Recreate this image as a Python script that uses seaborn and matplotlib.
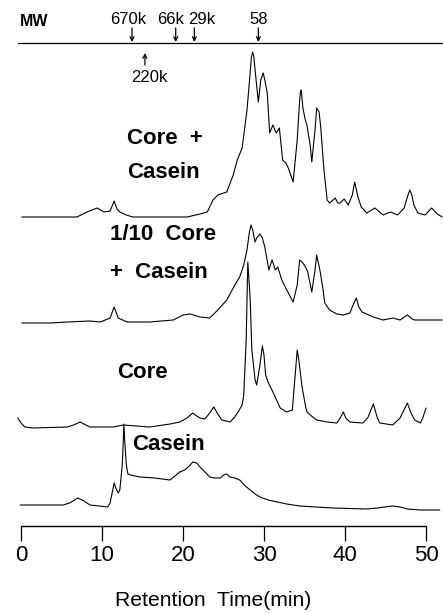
import numpy as np
import pandas as pd
import matplotlib
matplotlib.use("Agg")
import matplotlib.pyplot as plt
import seaborn as sns

# ---------------- data (retention time in min, detector signal in arbitrary units) -------------
core_casein_t = [0.1, 6.9, 8.15, 9.4, 10.25, 11.0, 11.5, 11.85, 12.2, 13.0, 13.8, 20.5, 22.1, 23.0,
                 23.7, 24.3, 25.4, 26.2, 26.7, 27.3, 27.9, 28.3, 28.45, 28.6, 28.75, 28.9, 29.3, 29.6,
                 29.9, 30.1, 30.4, 30.7, 31.1, 31.5, 31.9, 32.3, 32.7, 33.0, 33.6, 34.1, 34.4, 34.5,
                 34.6, 34.8, 35.1, 35.3, 35.7, 35.9, 36.3, 36.5, 36.8, 37.0, 37.4, 37.8, 38.1, 38.8,
                 39.1, 39.4, 39.9, 40.4, 40.9, 41.2, 41.6, 42.0, 42.7, 43.7, 44.7, 45.6, 46.5, 47.3,
                 47.7, 48.0, 48.25, 48.5, 49.0, 49.9, 50.7, 51.4, 52.0]
core_casein_y = [0, 0, 5, 9, 5, 6, 16, 8, 5, 2, 0, 0, 3, 5,
                 17, 22, 25, 42, 57, 69, 107, 145, 160, 165, 160, 147, 115, 137,
                 144, 137, 124, 84, 92, 84, 89, 57, 54, 49, 35, 77, 117, 125,
                 127, 109, 97, 92, 72, 55, 87, 109, 105, 90, 47, 17, 14, 19,
                 14, 14, 18, 12, 22, 35, 20, 10, 4, 9, 2, 5, 2, 9,
                 20, 27, 22, 12, 4, 2, 9, 3, 0]

tenth_core_casein_t = [0.1, 3.6, 5.7, 8.5, 9.8, 11.0, 11.5, 12.0, 13.1, 15.9, 18.8, 20.0, 20.9, 22.1,
                       23.3, 24.3, 25.4, 26.4, 27.0, 27.5, 27.9, 28.2, 28.4, 28.6, 28.9, 29.1, 29.5,
                       29.8, 30.1, 30.6, 31.0, 31.4, 31.7, 32.2, 32.8, 33.6, 34.1, 34.4, 34.8, 35.2,
                       35.4, 35.9, 36.3, 36.5, 36.9, 37.3, 37.5, 38.1, 39.0, 39.8, 40.6, 41.0, 41.4,
                       41.7, 42.1, 43.5, 44.7, 45.9, 46.8, 47.7, 48.3, 48.6, 50.5, 52.0]
tenth_core_casein_y = [-1, -1, 0, 1, 0, 4, 15, 4, 0, 0, 2, 7, 8, 5,
                       4, 12, 22, 37, 45, 57, 72, 90, 97, 92, 80, 84, 88,
                       84, 75, 52, 62, 52, 55, 42, 32, 20, 37, 62, 59, 54,
                       50, 30, 52, 67, 52, 32, 19, 12, 8, 7, 9, 17, 24,
                       15, 10, 5, 2, 4, 2, 7, 3, 2, 2, 2]

core_t = [-0.4, 0.1, 0.5, 1.5, 5.7, 6.5, 7.3, 8.0, 8.5, 11.4, 12.6, 15.9, 18.4, 19.6, 20.5, 21.2,
          21.7, 22.1, 22.7, 23.3, 23.8, 24.3, 24.8, 25.8, 26.3, 26.8, 27.3, 27.5, 27.8, 28.0, 28.3,
          28.5, 28.9, 29.1, 29.5, 29.8, 30.0, 30.2, 30.5, 31.1, 32.0, 32.8, 33.5, 33.8, 34.1, 34.3,
          34.7, 35.1, 35.3, 36.0, 36.5, 37.8, 39.0, 39.4, 39.8, 40.1, 40.6, 42.2, 42.8, 43.5, 44.0,
          44.3, 45.9, 46.8, 47.7, 48.1, 48.6, 49.3, 49.6, 50.0]
core_y = [10, 4, 1, 0, 1, 3, 6, 3, 1, 1, 3, 1, 4, 6, 10, 15,
          12, 10, 9, 15, 21, 14, 8, 6, 10, 16, 23, 33, 88, 166, 128,
          78, 48, 43, 63, 82, 73, 53, 46, 36, 20, 16, 18, 48, 78, 68,
          41, 23, 16, 11, 8, 6, 5, 10, 16, 10, 6, 5, 10, 24, 10,
          5, 3, 10, 25, 16, 8, 5, 10, 20]

casein_t = [-0.1, 5.2, 6.0, 7.0, 7.8, 8.5, 10.7, 11.0, 11.2, 11.5, 11.7, 12.0, 12.2, 12.5, 12.6,
            12.7, 12.8, 13.0, 13.2, 13.5, 14.7, 16.5, 18.4, 19.0, 19.6, 20.2, 20.9, 21.2, 21.7,
            22.1, 22.7, 23.3, 23.9, 24.6, 25.0, 25.4, 25.8, 26.4, 27.0, 27.7, 28.3, 28.9, 29.5,
            30.5, 31.1, 32.8, 34.4, 38.5, 42.7, 44.0, 44.9, 45.9, 46.8, 47.7, 49.3, 51.7]
casein_y = [0, 0, 2, 7, 4, 0, -2, 2, 10, 22, 17, 12, 15, 40, 58,
            81, 65, 40, 31, 30, 28, 27, 25, 29, 33, 35, 40, 43, 42,
            38, 33, 28, 27, 27, 30, 31, 28, 27, 25, 19, 15, 11, 8,
            5, 4, 1, -1, -3, -4, -3, -2, -1, -2, -4, -5, -5]

trace_names = ["Core + Casein", "1/10 Core + Casein", "Core", "Casein"]
trace_times = [core_casein_t, tenth_core_casein_t, core_t, casein_t]
trace_values = [core_casein_y, tenth_core_casein_y, core_y, casein_y]

mw_labels = ["670k", "66k", "29k", "58"]
mw_times = [13.7, 19.1, 21.4, 29.3]
mw_up_label = "220k"
mw_up_time = 15.3

x_ticks = [0, 10, 20, 30, 40, 50]

# ---------------- layout / styling (not data) ----------------
trace_offsets = [309, 204, 98, 21]
label_specs = [  # (text, x in min, y)
    ("Core  +", 13.1, 388), ("Casein", 13.1, 353),
    ("1/10  Core", 11.0, 291), ("+  Casein", 11.0, 253),
    ("Core", 11.85, 153),
    ("Casein", 13.7, 81),
]

sns.set_theme(style="white")
plt.rcParams["font.family"] = ["Liberation Sans", "DejaVu Sans"]
plt.rcParams["text.color"] = "black"
plt.rcParams["axes.labelcolor"] = "black"
plt.rcParams["xtick.color"] = "black"

W, H = 443, 613
fig = plt.figure(figsize=(W / 100, H / 100), dpi=100)
spine_py = 526
ax = fig.add_axes([0, (H - spine_py) / H, 1, spine_py / H])
px_per_min = 8.1
x0_px = 21
ax.set_xlim(-x0_px / px_per_min, (W - x0_px) / px_per_min)
ax.set_ylim(0, spine_py)

frames = []
for name, t, v, off in zip(trace_names, trace_times, trace_values, trace_offsets):
    df = pd.DataFrame({"time": t, "signal": np.asarray(v, dtype=float) + off, "trace": name})
    frames.append(df)
data = pd.concat(frames, ignore_index=True)

for name in trace_names:
    sub = data[data["trace"] == name]
    sns.lineplot(data=sub, x="time", y="signal", ax=ax, color="black", lw=0.8,
                 sort=False, estimator=None, legend=False)

# MW scale line at top
mw_y = 526 - 43
ax.plot([-0.4, 52.2], [mw_y, mw_y], color="black", lw=0.9, clip_on=False)
ax.text(-0.2, 526 - 21, "MW", fontsize=11.5, fontweight="bold", ha="left", va="center")
label_offsets = {"670k": -0.5, "66k": -0.6, "29k": 0.85, "58": 0.0}
for lab, t in zip(mw_labels, mw_times):
    ax.annotate("", xy=(t, mw_y + 1), xytext=(t, mw_y + 15),
                arrowprops=dict(arrowstyle="->", lw=0.9, color="black",
                                shrinkA=0, shrinkB=0, mutation_scale=7))
    ax.text(t + label_offsets[lab], 526 - 20, lab, fontsize=12, ha="center", va="center")
ax.annotate("", xy=(mw_up_time, 526 - 53), xytext=(mw_up_time, 526 - 65),
            arrowprops=dict(arrowstyle="->", lw=0.9, color="black",
                            shrinkA=0, shrinkB=0, mutation_scale=7))
ax.text(mw_up_time + 0.6, 526 - 78, mw_up_label, fontsize=12, ha="center", va="center")

for txt, tx, ty in label_specs:
    ax.text(tx, ty, txt, fontsize=16, fontweight="bold", ha="left", va="center")

# axes styling
for s in ["top", "right", "left"]:
    ax.spines[s].set_visible(False)
ax.spines["bottom"].set_bounds(0, 50)
ax.spines["bottom"].set_linewidth(1.0)
ax.spines["bottom"].set_color("black")
ax.set_yticks([])
ax.set_xticks(x_ticks)
ax.set_xticklabels([str(v) for v in x_ticks])
ax.tick_params(axis="x", direction="out", length=11, width=0.9, color="black",
               labelsize=16, pad=3, bottom=True)
ax.set_xlabel("Retention  Time(min)", fontsize=15.2)
ax.xaxis.set_label_coords(213 / W, -(600 - spine_py) / spine_py, transform=ax.transAxes)
ax.xaxis.label.set_va("center")
ax.set_ylabel("")

fig.savefig("out.png", dpi=100)
